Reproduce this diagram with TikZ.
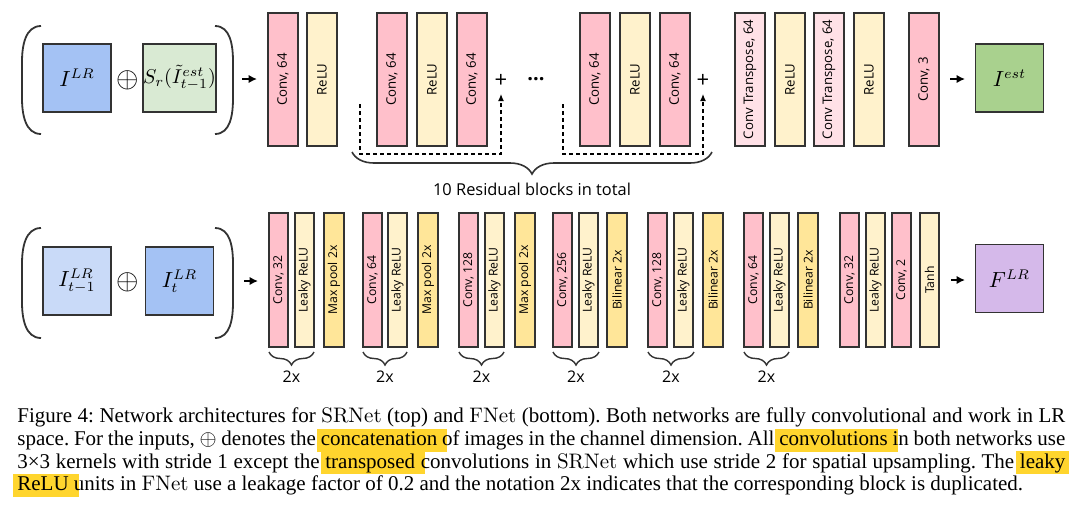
\documentclass[tikz,border=0pt]{standalone}
\usepackage{fontspec}
\setmainfont{Liberation Serif}
\newfontfamily\osans{Open Sans}
\newfontfamily\lmr{lmroman10-regular.otf}
\usetikzlibrary{arrows.meta,decorations.pathreplacing,calc}
\definecolor{convc}{HTML}{FFC0CB}
\definecolor{reluc}{HTML}{FFF2CC}
\definecolor{poolc}{HTML}{FFE699}
\definecolor{convtc}{HTML}{FFE1E7}
\definecolor{blueA}{HTML}{A4C2F4}
\definecolor{blueB}{HTML}{C9DAF8}
\definecolor{greenA}{HTML}{D9EAD3}
\definecolor{greenB}{HTML}{A9D18E}
\definecolor{purp}{HTML}{D5B9EA}
\definecolor{hly}{HTML}{FFD52E}
\definecolor{edge}{HTML}{333333}
\newsavebox\hlbox
\newcommand\hl[2][5pt]{\sbox\hlbox{#2}\makebox[0pt][l]{\kern-2pt\textcolor{hly}{\rule[-3.2pt]{\dimexpr\wd\hlbox+2pt+#1\relax}{11.6pt}}}\usebox\hlbox}
\tikzset{
  topblk/.style={draw=edge, line width=0.7pt, rotate=90, inner sep=0pt,
    minimum width=66.5pt, minimum height=15pt, font=\osans\fontsize{6.6}{7}\selectfont},
  botblk/.style={draw=edge, line width=0.7pt, rotate=90, inner sep=0pt,
    minimum width=67pt, minimum height=9.5pt, font=\osans\fontsize{6.1}{7}\selectfont},
  poolblk/.style={botblk, minimum height=10pt, fill=poolc},
  inbox/.style={draw=edge, line width=0.7pt, minimum width=34pt, minimum height=34pt, inner sep=0pt, font=\fontsize{10.5}{12}\selectfont},
  arr/.style={line width=0.9pt, -{Latex[length=4.2pt,width=4.2pt]}},
  skipline/.style={line width=0.6pt, dash pattern=on 2.2pt off 1.3pt, -{Latex[length=3.5pt,width=3pt]}},
  paren/.style={line width=0.9pt, edge},
  bigbrace/.style={line width=0.8pt, edge, decorate, decoration={brace, amplitude=11pt, mirror}},
  smallbrace/.style={line width=0.7pt, edge, decorate, decoration={brace, amplitude=6.5pt, mirror}},
  lbl/.style={font=\osans\fontsize{8.2}{10}\selectfont, inner sep=0pt},
  plus/.style={font=\osans\fontsize{11}{12}\selectfont, inner sep=0pt},
  oplusnode/.style={font=\fontsize{14}{16}\selectfont, inner sep=0pt},
  capline/.style={anchor=base west, inner sep=0pt, font=\fontsize{10.5}{11}\selectfont\frenchspacing}
}
\begin{document}
\begin{tikzpicture}[x=0.5pt,y=-0.5pt]
\useasboundingbox[fill=white] (0,0) rectangle (1080,510);

% ---------------- top row (SRNet) ----------------
\draw[paren] (41,26) to[out=180,in=90] (22,62) -- (22,98) to[out=-90,in=180] (41,134);
\draw[paren] (215,26) to[out=0,in=90] (233,62) -- (233,98) to[out=-90,in=0] (215,134);
\node[inbox, fill=blueA] (ilr) at (77,78) {$I^{LR}$};
\node[oplusnode] (op1) at (128,80) {$\oplus$};
\node[inbox, fill=greenA, font=\fontsize{9.6}{11}\selectfont] (sr) at (179.5,78) {$S_r(\tilde{I}^{est}_{t-1})$};
\coordinate (a1s) at (242,79);
\coordinate (a1e) at (257,79);
\draw[arr] (a1s) -- (a1e);

\node[topblk, fill=convc] (t1) at (283,79.5) {Conv, 64};
\node[topblk, fill=reluc] (t2) at (322,79.5) {ReLU};
\node[topblk, fill=convc] (t3) at (392,79.5) {Conv, 64};
\node[topblk, fill=reluc] (t4) at (432,79.5) {ReLU};
\node[topblk, fill=convc] (t5) at (472,79.5) {Conv, 64};
\node[plus] (p1) at (501,81) {+};
\node[font=\osans\bfseries\fontsize{10}{12}\selectfont, inner sep=0pt] (dots) at (536,79) {...};
\node[topblk, fill=convc] (t6) at (595,79.5) {Conv, 64};
\node[topblk, fill=reluc] (t7) at (635,79.5) {ReLU};
\node[topblk, fill=convc] (t8) at (675,79.5) {Conv, 64};
\node[plus] (p2) at (703,81) {+};
\node[topblk, fill=convtc] (t9) at (750,79.5) {Conv Transpose, 64};
\node[topblk, fill=reluc] (t10) at (790,79.5) {ReLU};
\node[topblk, fill=convtc] (t11) at (829,79.5) {Conv Transpose, 64};
\node[topblk, fill=reluc] (t12) at (869,79.5) {ReLU};
\node[topblk, fill=convc] (t13) at (924,79.5) {Conv, 3};
\coordinate (a2s) at (950,79);
\coordinate (a2e) at (965,79);
\draw[arr] (a2s) -- (a2e);
\node[inbox, fill=greenB] (iest) at (1009.5,78) {$I^{est}$};

% skip connections
\coordinate (s1a) at (360,104);
\coordinate (s1b) at (501,94);
\draw[skipline] (s1a) -- ++(0,50) -| (s1b);
\coordinate (s2a) at (563,104);
\coordinate (s2b) at (703,94);
\draw[skipline] (s2a) -- ++(0,50) -| (s2b);

% big brace
\coordinate (b1) at (352,152);
\coordinate (b2) at (712,152);
\draw[bigbrace] (b1) -- (b2);
\node[lbl] (res) at (532,189) {10 Residual blocks in total};

% ---------------- bottom row (FNet) ----------------
\draw[paren] (41,228) to[out=180,in=90] (22,264) -- (22,302) to[out=-90,in=180] (41,338);
\draw[paren] (215,228) to[out=0,in=90] (233,264) -- (233,302) to[out=-90,in=0] (215,338);
\node[inbox, fill=blueB] (iprev) at (77,281) {$I^{LR}_{t-1}$};
\node[oplusnode] (op2) at (128,282) {$\oplus$};
\node[inbox, fill=blueA] (icur) at (179.5,281) {$I^{LR}_{t}$};
\coordinate (a3s) at (244,281);
\coordinate (a3e) at (258,281);
\draw[arr] (a3s) -- (a3e);

\node[botblk, fill=convc] (f1) at (278.5,280) {Conv, 32};
\node[botblk, fill=reluc] (f2) at (304.5,280) {Leaky ReLU};
\node[poolblk] (f3) at (334,280) {Max pool 2x};
\node[botblk, fill=convc] (f4) at (372.5,280) {Conv, 64};
\node[botblk, fill=reluc] (f5) at (397.5,280) {Leaky ReLU};
\node[poolblk] (f6) at (428,280) {Max pool 2x};
\node[botblk, fill=convc] (f7) at (468.5,280) {Conv, 128};
\node[botblk, fill=reluc] (f8) at (494.5,280) {Leaky ReLU};
\node[poolblk] (f9) at (525,280) {Max pool 2x};
\node[botblk, fill=convc] (f10) at (562.5,280) {Conv, 256};
\node[botblk, fill=reluc] (f11) at (588.5,280) {Leaky ReLU};
\node[poolblk] (f12) at (617,280) {Bilinear 2x};
\node[botblk, fill=convc] (f13) at (657.5,280) {Conv, 128};
\node[botblk, fill=reluc] (f14) at (683.5,280) {Leaky ReLU};
\node[poolblk] (f15) at (713,280) {Bilinear 2x};
\node[botblk, fill=convc] (f16) at (753.5,280) {Conv, 64};
\node[botblk, fill=reluc] (f17) at (779.5,280) {Leaky ReLU};
\node[poolblk] (f18) at (808,280) {Bilinear 2x};
\node[botblk, fill=convc] (f19) at (849.5,280) {Conv, 32};
\node[botblk, fill=reluc] (f20) at (875.5,280) {Leaky ReLU};
\node[botblk, fill=convc] (f21) at (901.5,280) {Conv, 2};
\node[botblk, fill=reluc] (f22) at (929.5,280) {Tanh};
\coordinate (a4s) at (951,280);
\coordinate (a4e) at (965,280);
\draw[arr] (a4s) -- (a4e);
\node[inbox, fill=purp] (flr) at (1009.5,278.5) {$F^{LR}$};

% 2x braces
\foreach \l/\r/\n in {269/314/1, 363/407/2, 459/504/3, 553/599/4, 648/694/5, 744/789/6} {
  \coordinate (bl\n) at (\l,352);
  \coordinate (br\n) at (\r,352);
  \draw[smallbrace] (bl\n) -- (br\n);
  \node[lbl, font=\osans\fontsize{8}{10}\selectfont] (tx\n) at ({(\l+\r)/2},377) {2x};
}

% ---------------- caption ----------------
\node[capline] (cap1) at (17,422.7) {\makebox[524pt][s]{Figure 4: Network architectures for {\lmr SRNet} (top) and {\lmr FNet} (bottom). Both networks are fully convolutional and work in LR}};
\node[capline] (cap2) at (17,445.4) {\makebox[524pt][s]{space. For the inputs, $\oplus$ denotes the \hl{concatenation} of images in the channel dimension. All \hl{convolutions} in both networks use}};
\node[capline] (cap3) at (17,468) {\makebox[524pt][s]{3×3 kernels with stride 1 except the \hl{transposed} convolutions in {\lmr SRNet} which use stride 2 for spatial upsampling. The \hl[2pt]{leaky}}};
\node[capline] (cap4) at (17,490.7) {\hl{ReLU} units in {\lmr FNet} use a leakage factor of 0.2 and the notation 2x indicates that the corresponding block is duplicated.};
\end{tikzpicture}
\end{document}
